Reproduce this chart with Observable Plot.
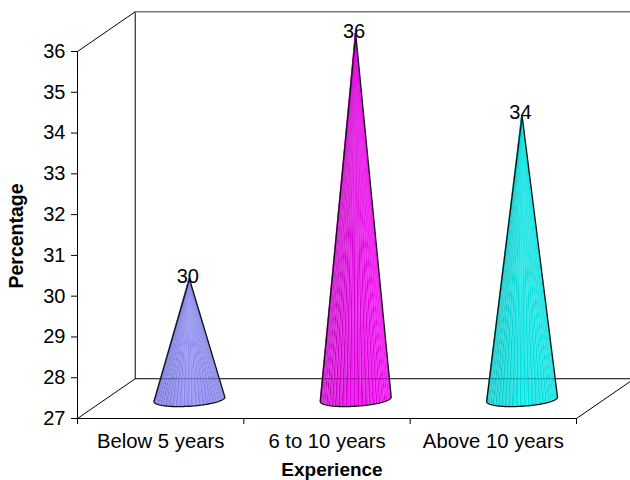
<!DOCTYPE html>
<html><head><meta charset="utf-8">
<style>html,body{margin:0;padding:0;background:#fff}svg{display:block}</style>
<script src="https://cdn.jsdelivr.net/npm/d3@7"></script>
<script src="https://cdn.jsdelivr.net/npm/@observablehq/plot@0.6"></script>
</head><body><div id="chart"></div>
<script>
const categories = ["Below 5 years", "6 to 10 years", "Above 10 years"];
const values = [30, 36, 34];
const valueLabels = ["30", "36", "34"];
const yTicks = [27, 28, 29, 30, 31, 32, 33, 34, 35, 36];
const palettes = [
  {ramp: ["#7a7ae0", "#8c8cee", "#6c6cd4"], stripe: "#b0b0ff"},
  {ramp: ["#ea00ea", "#d800d8", "#c000c0"], stripe: "#ff50ff"},
  {ramp: ["#00dcdc", "#00e0e0", "#00c0c0"], stripe: "#60f4f4"}
];
const depthX = 0.347, depthY = 0.975;
const yMin = 27, yMax = 36, xMax = 3;
const radius = 0.213, ry = 0.17, tilt = 0.055, midX = 0.173, midY = 0.47, apexLift = 0.42, strips = 56;

const frameLines = [
  [[0, yMax], [depthX, yMax + depthY]],
  [[depthX, yMax + depthY], [depthX, yMin + depthY]],
  [[0, yMin], [depthX, yMin + depthY], [xMax + depthX, yMin + depthY], [xMax, yMin]]
].flatMap((pts, k) => pts.map(([x, y]) => ({x, y, k})));
const topLine = [[depthX, yMax + depthY], [xMax + depthX, yMax + depthY]];

const stripRows = [], rimRows = [], seenLines = [];
values.forEach((v, i) => {
  const cx = i + 0.5 + midX, cy = yMin + midY, ax = cx, ay = v + apexLift;
  const base = t => [cx + radius * Math.cos(t), cy - ry * Math.sin(t) + tilt * Math.cos(t)];
  const ramp = d3.piecewise(d3.interpolateRgb, palettes[i].ramp);
  for (let s = 0; s < strips; s++) {
    const t0 = Math.PI * s / strips, t1 = Math.PI * (s + 1) / strips;
    const [x0, y0] = base(t0), [x1, y1] = base(t1);
    const pos = (Math.cos(t0) + 1) / 2;
    const c = ramp(1 - pos);
    const fill = d3.rgb(s % 2 ? d3.interpolateRgb(c, palettes[i].stripe)(0.5) : c).formatHex();
    const z = `${i}-${s}`;
    stripRows.push({z, fill, x1: ax, y1: ay, x2: ax, y2: ay}, {z, fill, x1: x0, y1: y0, x2: x1, y2: y1});
  }
  const rim = [[ax, ay]];
  for (let s = 0; s <= strips; s++) rim.push(base(Math.PI * s / strips));
  rim.push([ax, ay]);
  rim.forEach(([x, y]) => rimRows.push({x, y, i}));
  const hw = radius * (1 - (yMin + depthY - cy) / (ay - cy));
  seenLines.push({i, x: cx - hw, y: yMin + depthY}, {i, x: cx + hw, y: yMin + depthY});
});

const plot = Plot.plot({
  width: 630, height: 480,
  marginLeft: 77, marginRight: 54, marginTop: 51, marginBottom: 62,
  style: {fontFamily: "Liberation Sans, Arial, sans-serif", background: "#fff", color: "#000"},
  x: {domain: [0, xMax], axis: null},
  y: {domain: [yMin, yMax], axis: null},
  color: {type: "identity"},
  marks: [
    Plot.line(frameLines, {x: "x", y: "y", z: "k", stroke: "#000", strokeWidth: 1}),
    Plot.line(topLine, {stroke: "#777", strokeWidth: 1.4}),
    Plot.area(stripRows, {x1: "x1", y1: "y1", x2: "x2", y2: "y2", z: "z", fill: "fill", stroke: "fill", strokeWidth: 0.2}),
    Plot.line(rimRows, {x: "x", y: "y", z: "i", stroke: "#111", strokeWidth: 1.3}),
    Plot.line(seenLines, {x: "x", y: "y", z: "i", stroke: "#000", strokeOpacity: 0.4, strokeDasharray: "1,2", strokeWidth: 1}),
    Plot.ruleX([0], {y1: yMin, y2: yMax, stroke: "#000"}),
    Plot.ruleY([yMin], {x1: 0, x2: xMax, stroke: "#000"}),
    Plot.axisY({ticks: yTicks, tickFormat: d => d, tickSize: 6, tickPadding: 6, fontSize: 20, label: null, anchor: "left", stroke: "#000"}),
    Plot.axisX({ticks: [0, 1, 2, 3], tickFormat: () => "", tickSize: 6, label: null, anchor: "bottom", stroke: "#000"}),
    Plot.axisX({ticks: [0.5, 1.5, 2.5], tickFormat: d => categories[d - 0.5], tickSize: 0, tickPadding: 15, fontSize: 20.3, label: null, anchor: "bottom"}),
    Plot.text(values, {x: (d, i) => i + 0.5 + midX - 0.01, y: d => d, text: (d, i) => valueLabels[i], dy: -20, fontSize: 20, fill: "#000"}),
    Plot.text(["Experience"], {frameAnchor: "bottom", dx: 5, dy: 57, fontWeight: "bold", fontSize: 19, fill: "#000"}),
    Plot.text(["Percentage"], {frameAnchor: "left", textAnchor: "middle", dx: -61, dy: 1, rotate: -90, fontWeight: "bold", fontSize: 19.5, fill: "#000"})
  ]
});
document.getElementById("chart").appendChild(plot);
</script></body></html>
